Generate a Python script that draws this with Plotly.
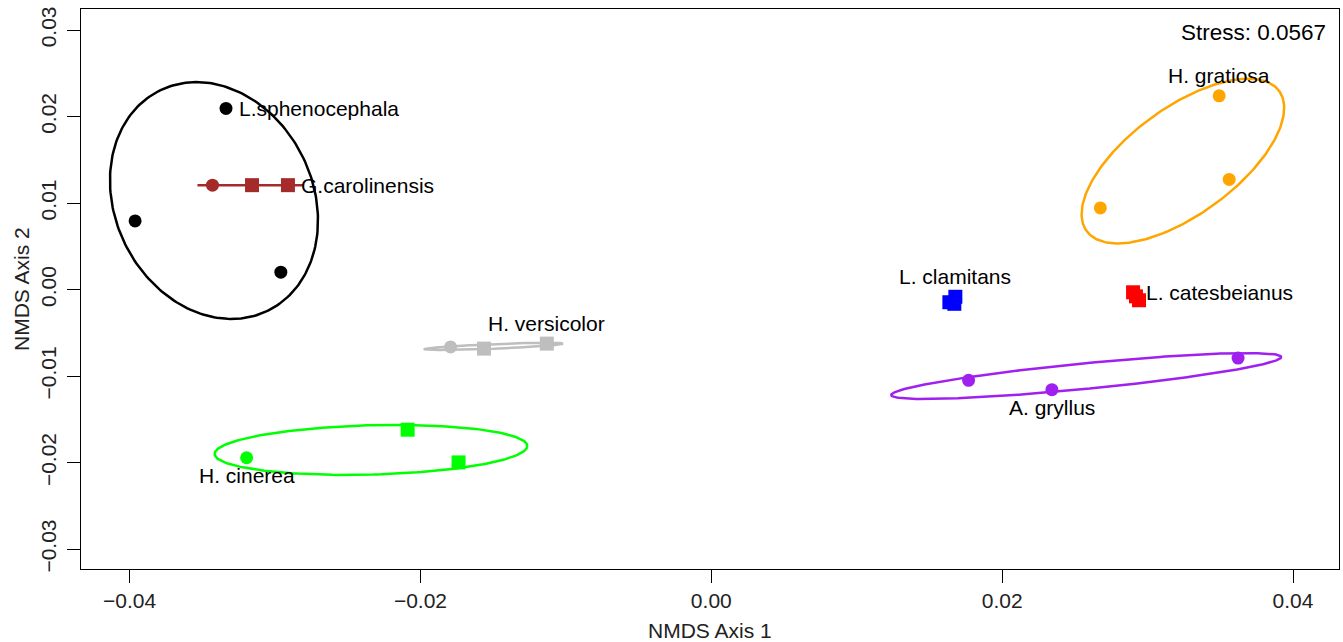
import numpy as np
import plotly.graph_objects as go

# ---------------- data ----------------
species = ["L.sphenocephala", "G.carolinensis", "H. versicolor", "H. cinerea",
           "L. clamitans", "L. catesbeianus", "A. gryllus", "H. gratiosa"]
species_colors = ["#000000", "#A52A2A", "#BEBEBE", "#00FF00",
                  "#0000FF", "#FF0000", "#A020F0", "#FFA500"]

point_species = [0, 0, 0, 1, 1, 1, 2, 2, 2, 3, 3, 3,
                 4, 4, 4, 5, 5, 5, 6, 6, 6, 7, 7, 7]
point_shape = ["circle", "circle", "circle",
               "circle", "square", "square",
               "circle", "square", "square",
               "circle", "square", "square",
               "square", "square", "square",
               "square", "square", "square",
               "circle", "circle", "circle",
               "circle", "circle", "circle"]
nmds1 = [-0.03337, -0.03962, -0.02960,
         -0.03430, -0.03158, -0.02911,
         -0.01793, -0.01563, -0.01131,
         -0.03195, -0.02088, -0.01738,
         0.01678, 0.01637, 0.01671,
         0.02900, 0.02941, 0.02920,
         0.01769, 0.02342, 0.03622,
         0.03492, 0.03561, 0.02675]
nmds2 = [0.02094, 0.00794, 0.00201,
         0.01207, 0.01207, 0.01207,
         -0.00663, -0.00682, -0.00624,
         -0.01943, -0.01619, -0.01997,
         -0.00083, -0.00146, -0.00164,
         -0.00031, -0.00123, -0.00078,
         -0.01049, -0.01156, -0.00791,
         0.02240, 0.01273, 0.00944]
stress_value = 0.0567

x_ticks = [-0.04, -0.02, 0.00, 0.02, 0.04]
y_ticks = [-0.03, -0.02, -0.01, 0.00, 0.01, 0.02, 0.03]

# label placement: which point of the group, and on which side (R pos)
label_anchor = [0, 2, 2, 0, 0, 0, 1, 0]
label_side = ["right", "right", "above", "below", "above", "right", "below", "above"]

# ---------------- helpers ----------------
FONT = "Liberation Sans, Arial, Helvetica, sans-serif"


def se_ellipse(xs, ys, conf=0.95, npts=240):
    X = np.column_stack([xs, ys])
    n = len(xs)
    ctr = X.mean(axis=0)
    cov = np.cov(X, rowvar=False) / n
    scale = np.sqrt(-2.0 * np.log(1.0 - conf))
    vals, vecs = np.linalg.eigh(cov)
    vals = np.clip(vals, 0, None)
    t = np.linspace(0, 2 * np.pi, npts)
    circ = np.vstack([np.cos(t), np.sin(t)])
    pts = vecs @ (np.sqrt(vals)[:, None] * circ) * scale
    return ctr[0] + pts[0], ctr[1] + pts[1]


nmds1_a = np.array(nmds1)
nmds2_a = np.array(nmds2)
grp = np.array(point_species)
shapes_a = np.array(point_shape)

fig = go.Figure()

# ellipses
for g, name in enumerate(species):
    m = grp == g
    ex, ey = se_ellipse(nmds1_a[m], nmds2_a[m])
    fig.add_trace(go.Scatter(x=ex, y=ey, mode="lines",
                             line=dict(color=species_colors[g], width=2.5),
                             hoverinfo="skip", showlegend=False))

# points
for g, name in enumerate(species):
    m = grp == g
    syms = list(shapes_a[m])
    sizes = [14 if s == "square" else 13 for s in syms]
    fig.add_trace(go.Scatter(x=nmds1_a[m], y=nmds2_a[m], mode="markers",
                             marker=dict(color=species_colors[g], symbol=syms,
                                         size=sizes, opacity=1, line=dict(width=0)),
                             opacity=1, name=name, showlegend=False))

# species labels
annotations = []
for g, name in enumerate(species):
    idx = np.where(grp == g)[0][label_anchor[g]]
    side = label_side[g]
    a = dict(x=nmds1_a[idx], y=nmds2_a[idx], text=name, showarrow=False,
             font=dict(family=FONT, size=21, color="black"))
    if side == "right":
        a.update(xanchor="left", yanchor="middle", xshift=11)
    elif side == "above":
        a.update(xanchor="center", yanchor="middle", yshift=20)
    else:
        a.update(xanchor="center", yanchor="middle", yshift=-18)
    annotations.append(a)

# stress text
annotations.append(dict(xref="paper", yref="paper", x=1, y=1, xanchor="right",
                        yanchor="middle", xshift=-11, yshift=-23,
                        text=f"Stress: {stress_value:.4f}", showarrow=False,
                        font=dict(family=FONT, size=22.5, color="black")))
# axis titles
annotations.append(dict(xref="paper", yref="paper", x=0.5, y=0, xanchor="center",
                        yanchor="middle", yshift=-61, text="NMDS Axis 1",
                        showarrow=False, font=dict(family=FONT, size=21, color="#222")))
annotations.append(dict(xref="paper", yref="paper", x=0, y=0.5, xanchor="center",
                        yanchor="middle", xshift=-60, textangle=-90,
                        text="NMDS Axis 2", showarrow=False,
                        font=dict(family=FONT, size=21, color="#222")))

axis_common = dict(showgrid=False, zeroline=False, showline=True, mirror=True,
                   linecolor="black", linewidth=1.4, ticks="outside", ticklen=13,
                   tickwidth=1.3, tickcolor="black",
                   tickfont=dict(family=FONT, size=21, color="#222"))

fig.update_layout(
    width=1343, height=642,
    margin=dict(l=81, r=4, t=9, b=73),
    plot_bgcolor="white", paper_bgcolor="white",
    xaxis=dict(range=[-0.04334, 0.04316], tickvals=x_ticks, tickformat=".2f",
               ticklabelstandoff=0, **axis_common),
    yaxis=dict(range=[-0.03229, 0.03243], tickvals=y_ticks, tickformat=".2f",
               tickangle=-90, ticklabelstandoff=2, **axis_common),
    annotations=annotations,
    showlegend=False,
)

fig.write_html("out.html", config={"displayModeBar": False},
               post_script="document.body.style.margin='0';document.body.style.overflow='hidden';")
